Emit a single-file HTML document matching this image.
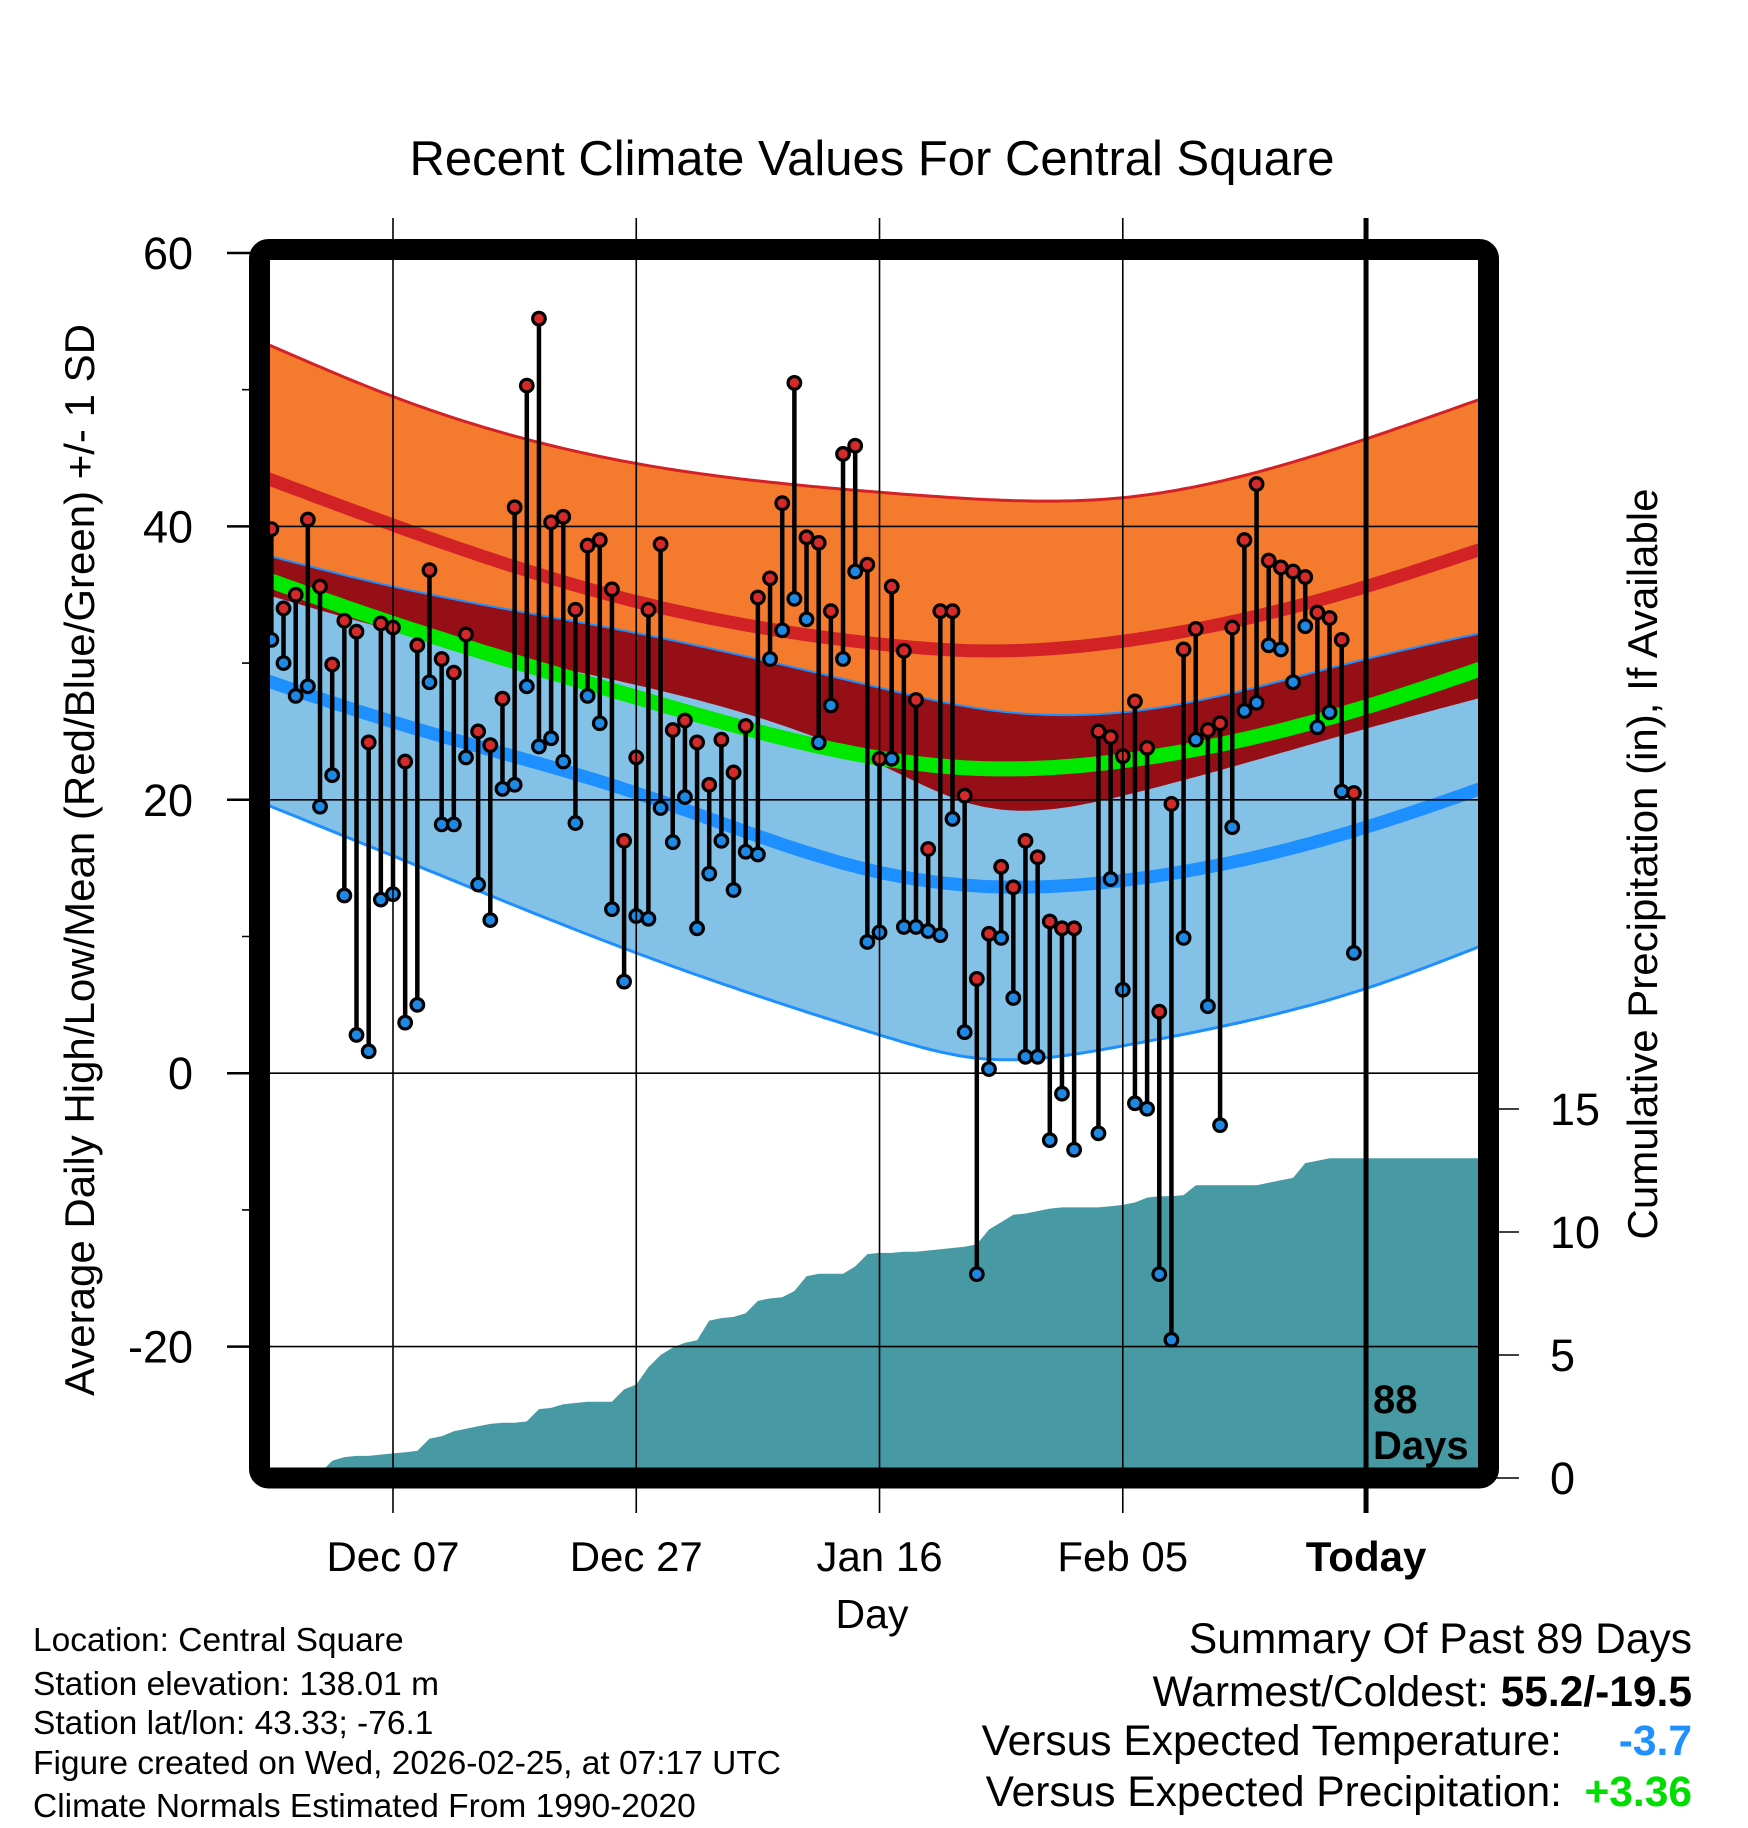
<!DOCTYPE html>
<html><head><meta charset="utf-8">
<style>
html,body{margin:0;padding:0;background:#fff;}
svg{display:block;font-family:"Liberation Sans",sans-serif;}
</style></head>
<body>
<svg id="chart" width="1748" height="1828" viewBox="0 0 1748 1828" xmlns="http://www.w3.org/2000/svg">
<defs><clipPath id="plotclip"><rect x="270" y="260" width="1208" height="1208"/></clipPath></defs>
<rect x="0" y="0" width="1748" height="1828" fill="#fff"/>
<text x="872" y="175" font-size="49" text-anchor="middle">Recent Climate Values For Central Square</text>
<g id="plot" clip-path="url(#plotclip)"></g>
<g id="axes"></g>
<rect x="259.5" y="249.5" width="1229" height="1228.5" rx="9" fill="none" stroke="#000" stroke-width="21"/>
<text x="1373" y="1413" font-size="40" font-weight="bold">88</text>
<text x="1373" y="1459" font-size="40" font-weight="bold">Days</text>
<text x="872" y="1628" font-size="41" text-anchor="middle">Day</text>
<text transform="translate(94,860) rotate(-90)" font-size="42" text-anchor="middle">Average Daily High/Low/Mean (Red/Blue/Green) +/- 1 SD</text>
<text transform="translate(1657,864) rotate(-90)" font-size="42" text-anchor="middle">Cumulative Precipitation (in), If Available</text>
<g font-size="33.5">
<text x="33" y="1651">Location: Central Square</text>
<text x="33" y="1695">Station elevation: 138.01 m</text>
<text x="33" y="1734">Station lat/lon: 43.33; -76.1</text>
<text x="33" y="1774">Figure created on Wed, 2026-02-25, at 07:17 UTC</text>
<text x="33" y="1817">Climate Normals Estimated From 1990-2020</text>
</g>
<g font-size="42.5">
<text x="1692" y="1653" text-anchor="end">Summary Of Past 89 Days</text>
<text x="1692" y="1706" text-anchor="end">Warmest/Coldest: <tspan font-weight="bold">55.2/-19.5</tspan></text>
<text x="1562" y="1755" text-anchor="end">Versus Expected Temperature:</text>
<text x="1692" y="1755" text-anchor="end" font-weight="bold" fill="#1E90FF">-3.7</text>
<text x="1562" y="1806" text-anchor="end">Versus Expected Precipitation:</text>
<text x="1692" y="1806" text-anchor="end" font-weight="bold" fill="#00DD00">+3.36</text>
</g>
</svg>
<script>
// ---- data ----
const startDay = -10; // days relative to Dec 07
const highs = [39.8,34.0,35.0,40.5,35.6,29.9,33.1,32.3,24.2,32.9,
32.6,22.8,31.3,36.8,30.3,29.3,32.1,25.0,24.0,27.4,
41.4,50.3,55.2,40.3,40.7,33.9,38.6,39.0,35.4,17.0,
23.1,33.9,38.7,25.1,25.8,24.2,21.1,24.4,22.0,25.4,
34.8,36.2,41.7,50.5,39.2,38.8,33.8,45.3,45.9,37.2,
23.0,35.6,30.9,27.3,16.4,33.8,33.8,20.3,6.9,10.2,
15.1,13.6,17.0,15.8,11.1,10.6,10.6,null,25.0,24.6,
23.2,27.2,23.8,4.5,19.7,31.0,32.5,25.1,25.6,32.6,
39.0,43.1,37.5,37.0,36.7,36.3,33.7,33.3,31.7,20.5];
const lows = [31.7,30.0,27.6,28.3,19.5,21.8,13.0,2.8,1.6,12.7,
13.1,3.7,5.0,28.6,18.2,18.2,23.1,13.8,11.2,20.8,
21.1,28.3,23.9,24.5,22.8,18.3,27.6,25.6,12.0,6.7,
11.5,11.3,19.4,16.9,20.2,10.6,14.6,17.0,13.4,16.2,
16.0,30.3,32.4,34.7,33.2,24.2,26.9,30.3,36.7,9.6,
10.3,23.0,10.7,10.7,10.4,10.1,18.6,3.0,-14.7,0.3,
9.9,5.5,1.2,1.2,-4.9,-1.5,-5.6,null,-4.4,14.2,
6.1,-2.2,-2.6,-14.7,-19.5,9.9,24.4,4.9,-3.8,18.0,
26.5,27.1,31.3,31.0,28.6,32.7,25.3,26.4,20.6,8.8];
const precip = [0,0,0,0,0.2,0.7,0.85,0.9,0.9,0.95,
1.0,1.05,1.1,1.6,1.7,1.9,2.0,2.1,2.2,2.25,
2.25,2.3,2.8,2.85,3.0,3.05,3.1,3.1,3.1,3.6,
3.8,4.5,5.0,5.3,5.5,5.6,6.4,6.5,6.55,6.7,
7.2,7.3,7.35,7.6,8.2,8.3,8.3,8.3,8.6,9.1,
9.15,9.15,9.2,9.2,9.25,9.3,9.35,9.4,9.5,10.1,
10.4,10.7,10.75,10.85,10.95,11.0,11.0,11.0,11.0,11.05,
11.1,11.2,11.4,11.45,11.45,11.5,11.9,11.9,11.9,11.9,
11.9,11.9,12.0,12.1,12.2,12.8,12.9,13.0,13.0,13.0];
// normals knots
const normDays = [-10,0,20,40,48,60,80,90];
const hiPlusSD = [53.2,49.5,44.6,42.5,42.0,42.1,46.4,49.5];
const hiMean = [43.4,40.1,34.5,31.4,30.9,31.6,35.6,38.5];
const hiMinusSD = [34.9,32.4,28.4,22.6,19.6,20.3,25.2,27.6];
const loPlusSD = [37.8,35.6,32.2,28.2,26.7,26.4,30.3,32.3];
const loMean = [28.6,25.7,20.5,14.7,13.7,14.1,18.0,21.0];
const loMinusSD = [19.5,15.9,8.8,2.8,1.1,2.0,6.2,9.5];
const yTicks = [60,40,20,0,-20];
const yMinor = [50,30,10,-10];
const pTicks = [0,5,10,15];
const xTickDays = [0,20,40,60,80];
const xTickLabels = ["Dec 07","Dec 27","Jan 16","Feb 05","Today"];

// ---- scales ----
const X = d => 393 + d*12.163;
const Y = v => 253 + (60 - v)*13.67;
const P = p => 1478 - p*24.6;
const NS = "http://www.w3.org/2000/svg";
function mk(tag, attrs, parent){const e=document.createElementNS(NS,tag);for(const k in attrs)e.setAttribute(k,attrs[k]);parent.appendChild(e);return e;}
const plot = document.getElementById('plot');
const axes = document.getElementById('axes');

function spline(xs, ys){ // natural cubic spline
  const n=xs.length, h=[], al=[0], l=[1], mu=[0], z=[0], c=new Array(n).fill(0), b=[], d=[];
  for(let i=0;i<n-1;i++) h.push(xs[i+1]-xs[i]);
  for(let i=1;i<n-1;i++) al.push(3/h[i]*(ys[i+1]-ys[i])-3/h[i-1]*(ys[i]-ys[i-1]));
  for(let i=1;i<n-1;i++){l[i]=2*(xs[i+1]-xs[i-1])-h[i-1]*mu[i-1];mu[i]=h[i]/l[i];z[i]=(al[i]-h[i-1]*z[i-1])/l[i];}
  for(let j=n-2;j>=0;j--){c[j]=(j<n-1?z[j]||0:0)-mu[j]*c[j+1];b[j]=(ys[j+1]-ys[j])/h[j]-h[j]*(c[j+1]+2*c[j])/3;d[j]=(c[j+1]-c[j])/(3*h[j]);}
  return x=>{let j=0;while(j<n-2&&x>xs[j+1])j++;const t=x-xs[j];return ys[j]+b[j]*t+c[j]*t*t+d[j]*t*t*t;};
}
function curve(vals){
  const f=spline(normDays,vals), pts=[];
  for(let dd=-11; dd<=91; dd+=0.5) pts.push([X(dd),Y(f(dd))]);
  return pts;
}
function band(a,b,fill,name){
  const A=curve(a),B=curve(b).reverse();
  const e=mk('path',{d:'M'+A.concat(B).map(p=>p[0].toFixed(1)+','+p[1].toFixed(1)).join('L')+'Z',fill:fill},plot);
  
  
}
function line(a,color,w,name){
  const A=curve(a);
  const e=mk('path',{d:'M'+A.map(p=>p[0].toFixed(1)+','+p[1].toFixed(1)).join('L'),fill:'none',stroke:color,'stroke-width':w},plot);
  
  
}
band(hiPlusSD,hiMinusSD,'#F47B2E','high-sd-band');
band(loPlusSD,loMinusSD,'#84C1E7','low-sd-band');
band(loPlusSD,hiMinusSD,'#960F16','overlap-band');
line(hiPlusSD,'#D22226',3,'high-plus-sd-line');
line(hiMean,'#D22226',13,'mean-high-line');
line(loPlusSD,'#1E8FFF',2,'low-plus-sd-line');
line(loMinusSD,'#1E8FFF',3,'low-minus-sd-line');
line(loMean,'#1E8FFF',13,'mean-low-line');
line(hiMean.map((v,i)=>(v+loMean[i])/2),'#00E800',15,'mean-temp-line');

// precip area
{
  const pts=[[X(startDay),P(0)]];
  precip.forEach((p,i)=>pts.push([X(startDay+i),P(p)]));
  pts.push([X(92),P(precip[precip.length-1])]);
  pts.push([X(92),P(-1)]);
  pts.push([X(startDay-1),P(-1)]);
  const e=mk('path',{d:'M'+pts.map(p=>p[0].toFixed(1)+','+p[1].toFixed(1)).join('L')+'Z',fill:'#479AA3'},plot);
  
  
}
// gridlines
yTicks.forEach(v=>{
  const g=mk('line',{x1:270,x2:1478,y1:Y(v),y2:Y(v),stroke:'#000','stroke-width':1.6},plot);
  
  
});
xTickDays.slice(0,4).forEach(d=>{
  const g=mk('line',{x1:X(d),x2:X(d),y1:218,y2:1513,stroke:'#000','stroke-width':1.6},axes);
  
  
});
{
  const g=mk('line',{x1:X(80),x2:X(80),y1:218,y2:1513,stroke:'#000','stroke-width':5},axes);
  
  
}
// stems and dots
highs.forEach((h,i)=>{
  const l=lows[i]; if(h===null||l===null) return;
  const x=X(startDay+i);
  const s=mk('line',{x1:x,x2:x,y1:Y(h),y2:Y(l),stroke:'#000','stroke-width':4.5},plot);
  
  
  const c1=mk('circle',{cx:x,cy:Y(l),r:6.3,fill:'#1E88E5',stroke:'#000','stroke-width':3.2},plot);
  
  
  const c2=mk('circle',{cx:x,cy:Y(h),r:6.3,fill:'#D42A2A',stroke:'#000','stroke-width':3.2},plot);
  
  
});
// y ticks
yTicks.forEach(v=>{
  const t=mk('line',{x1:227,x2:262,y1:Y(v),y2:Y(v),stroke:'#000','stroke-width':2.5},axes);
  
  
  const lb=mk('text',{x:193,y:Y(v)+16,'font-size':45,'text-anchor':'end'},axes);
  lb.textContent=String(v);
  
  
});
yMinor.forEach(v=>{
  const t=mk('line',{x1:242,x2:262,y1:Y(v),y2:Y(v),stroke:'#000','stroke-width':1.6},axes);
  
  
});
pTicks.forEach(p=>{
  const t=mk('line',{x1:1495,x2:1519,y1:P(p),y2:P(p),stroke:'#000','stroke-width':1.6},axes);
  
  
  const lb=mk('text',{x:1550,y:P(p)+16,'font-size':45},axes);
  lb.textContent=String(p);
  
  
});
xTickDays.forEach((d,i)=>{
  const lb=mk('text',{x:X(d),y:1571,'font-size':42,'text-anchor':'middle'},axes);
  if(i===4) lb.setAttribute('font-weight','bold');
  lb.textContent=xTickLabels[i];
  
  
});
</script>
</body></html>
